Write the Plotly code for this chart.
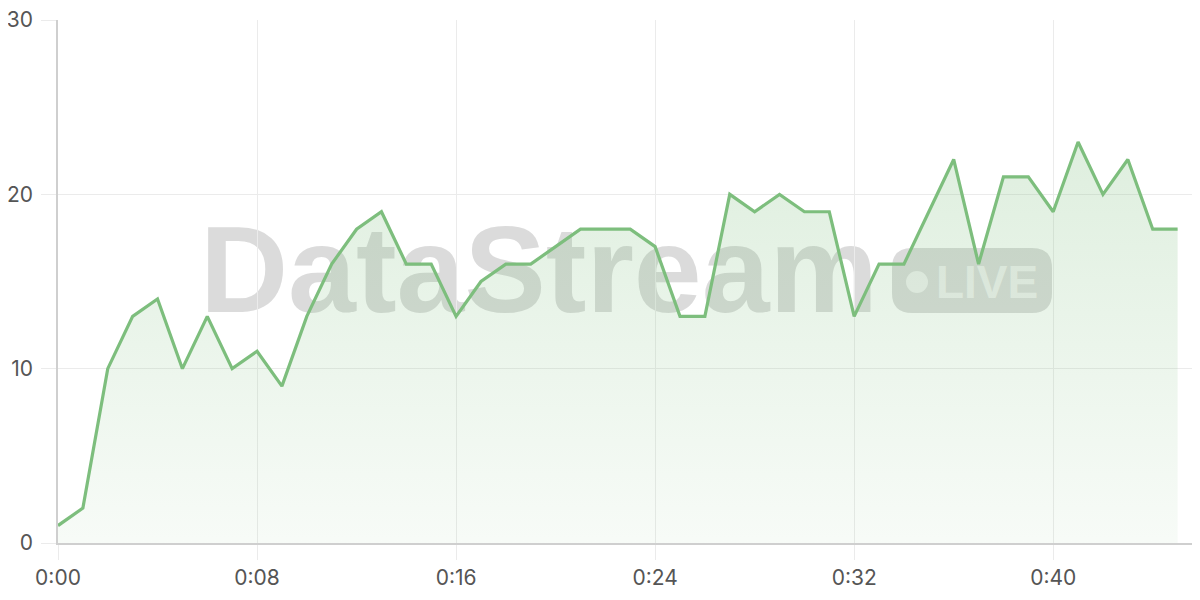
import plotly.graph_objects as go

# seconds since start and the measured value at each second
seconds = list(range(46))
values = [1, 2, 10, 13, 14, 10, 13, 10, 11, 9,
          13, 16, 18, 19, 16, 16, 13, 15, 16, 16,
          17, 18, 18, 18, 17, 13, 13, 20, 19, 20,
          19, 19, 13, 16, 16, 19, 22, 16, 21, 21,
          19, 23, 20, 22, 18, 18]

tick_seconds = [0, 8, 16, 24, 32, 40]
tick_labels = ["0:%02d" % s for s in tick_seconds]

# page has an 8px body margin, so the figure is sized to end at the window edge
OFF = 8
L, R, T, B = 58, 1200, 20, 543   # plot area in window pixels
FIG_H = 584


def px(x):
    return (x - L) / (R - L)


def py(y):
    return (B - y) / (B - T)


fig = go.Figure()

fig.add_trace(go.Scatter(
    x=seconds, y=values,
    mode="lines",
    line=dict(color="rgb(125,190,125)", width=3.2),
    fill="tozeroy",
    fillgradient=dict(
        type="vertical",
        colorscale=[[0, "rgba(125,190,125,0.06)"], [1, "rgba(125,190,125,0.25)"]],
    ),
    hoverinfo="skip",
))

# watermark "DataStream" + LIVE pill, drawn under the traces
wm_gray = "rgba(170,170,170,0.42)"
shapes = []
shapes.append(dict(
    type="rect", xref="paper", yref="paper", layer="between",
    x0=px(194), x1=px(884), y0=py(307), y1=py(209),
    line=dict(width=0), fillcolor="rgba(0,0,0,0)",
    label=dict(text="<b>DataStream</b>", textposition="middle center",
               font=dict(family="Liberation Sans", size=122, color=wm_gray)),
))

# rounded pill
x0, x1, y0, y1, r = 892, 1052, 248, 313, 20
path = (f"M {px(x0 + r)},{py(y0)} L {px(x1 - r)},{py(y0)} "
        f"Q {px(x1)},{py(y0)} {px(x1)},{py(y0 + r)} "
        f"L {px(x1)},{py(y1 - r)} Q {px(x1)},{py(y1)} {px(x1 - r)},{py(y1)} "
        f"L {px(x0 + r)},{py(y1)} Q {px(x0)},{py(y1)} {px(x0)},{py(y1 - r)} "
        f"L {px(x0)},{py(y0 + r)} Q {px(x0)},{py(y0)} {px(x0 + r)},{py(y0)} Z")
shapes.append(dict(type="path", xref="paper", yref="paper", layer="between",
                   path=path, fillcolor=wm_gray, line=dict(width=0)))
shapes.append(dict(type="circle", xref="paper", yref="paper", layer="between",
                   x0=px(906), x1=px(928), y0=py(293), y1=py(271),
                   fillcolor="rgba(255,255,255,0.6)", line=dict(width=0)))
shapes.append(dict(
    type="rect", xref="paper", yref="paper", layer="between",
    x0=px(934), x1=px(1040), y0=py(299), y1=py(257),
    line=dict(width=0), fillcolor="rgba(0,0,0,0)",
    label=dict(text="<b>LIVE</b>", textposition="middle center",
               font=dict(family="Liberation Sans", size=46,
                         color="rgba(255,255,255,0.6)")),
))

fig.update_layout(
    width=1200 - OFF, height=FIG_H,
    margin=dict(l=L - OFF, r=0, t=T - OFF, b=FIG_H - (B - OFF)),
    paper_bgcolor="white", plot_bgcolor="white",
    showlegend=False,
    shapes=shapes,
    font=dict(family="Inter", size=21, color="#555"),
)

fig.update_xaxes(
    range=[0, 45.9], automargin=False,
    tickvals=tick_seconds, ticktext=tick_labels,
    showgrid=True, gridcolor="#ebebeb", gridwidth=1,
    ticks="outside", ticklen=15, tickcolor="#ebebeb",
    showline=True, linecolor="#cfcfcf", linewidth=1.5,
    zeroline=False, ticklabeloverflow="allow",
)
fig.update_yaxes(
    range=[0, 30], dtick=10, automargin=False,
    showgrid=True, gridcolor="#ebebeb", gridwidth=1,
    ticks="outside", ticklen=15, tickcolor="#ebebeb",
    showline=True, linecolor="#cfcfcf", linewidth=1.5,
    zeroline=False, ticklabeloverflow="allow", ticklabelstandoff=4,
)

fig.write_html("out.html")
